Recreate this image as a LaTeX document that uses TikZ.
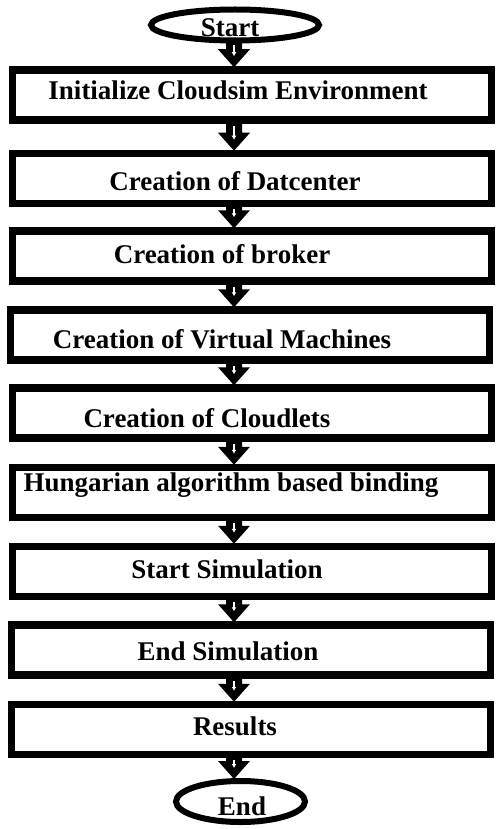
\documentclass[tikz,border=0pt]{standalone}
\usepackage{fontspec}
\setmainfont{Liberation Serif}
\usetikzlibrary{shapes.geometric,calc,arrows.meta}
\tikzset{
  flowbox/.style={draw=black, line width=7.5pt, rectangle, minimum width=479pt, minimum height=50pt, inner sep=0pt},
  term/.style={draw=black, line width=6pt, ellipse, inner sep=0pt},
  lbl/.style={anchor=base, inner sep=0pt, font=\fontsize{27}{30}\selectfont\bfseries},
}
\newcommand\flowarrow[2]{%
  \coordinate (s) at (ax|-#1.south);
  \coordinate (t) at (ax|-#2.north);
  \fill[black] ($(s)+(-8,-1)$) -- ($(s)+(8,-1)$) -- ($(t)+(8,-17)$) -- ($(t)+(16,-17)$)
     -- ($(t)+(0,1)$) -- ($(t)+(-16,-17)$) -- ($(t)+(-8,-17)$) -- cycle;
  \draw[white, line width=1.8pt, -{Latex[length=4pt,width=5pt]}] ($(s)+(0,2)$) -- ($(t)+(0,-10)$);
}
\begin{document}
\begin{tikzpicture}[x=1pt,y=-1pt]
\useasboundingbox[fill=white] (0,0) rectangle (495,829);
\coordinate (ax) at (234,0);
\node[term, minimum width=168pt, minimum height=31pt] (st) at (235,25) {};
\node[lbl] (tst) at (230,37) {Start};
\node[flowbox] (b1) at (252,95) {};
\node[lbl] (t1) at (238,100) {Initialize Cloudsim Environment};
\node[flowbox] (b2) at (252,178.5) {};
\node[lbl] (t2) at (235,190) {Creation of Datcenter};
\node[flowbox] (b3) at (252,256) {};
\node[lbl] (t3) at (222,263) {Creation of broker};
\node[flowbox] (b4) at (250,335) {};
\node[lbl] (t4) at (222,348) {Creation of Virtual Machines};
\node[flowbox] (b5) at (252,413) {};
\node[lbl] (t5) at (207,427) {Creation of Cloudlets};
\node[flowbox] (b6) at (252,492.5) {};
\node[lbl] (t6) at (231,491) {Hungarian algorithm based binding};
\node[flowbox] (b7) at (252,571.5) {};
\node[lbl] (t7) at (227,578) {Start Simulation};
\node[flowbox] (b8) at (251,650) {};
\node[lbl] (t8) at (228,660) {End Simulation};
\node[flowbox] (b9) at (251,729.5) {};
\node[lbl] (t9) at (235,735) {Results};
\node[term, minimum width=129pt, minimum height=41pt] (en) at (240.5,801.5) {};
\node[lbl] (ten) at (242,815) {End};
\flowarrow{st}{b1}
\flowarrow{b1}{b2}
\flowarrow{b2}{b3}
\flowarrow{b3}{b4}
\flowarrow{b4}{b5}
\flowarrow{b5}{b6}
\flowarrow{b6}{b7}
\flowarrow{b7}{b8}
\flowarrow{b8}{b9}
\flowarrow{b9}{en}
\end{tikzpicture}
\end{document}
